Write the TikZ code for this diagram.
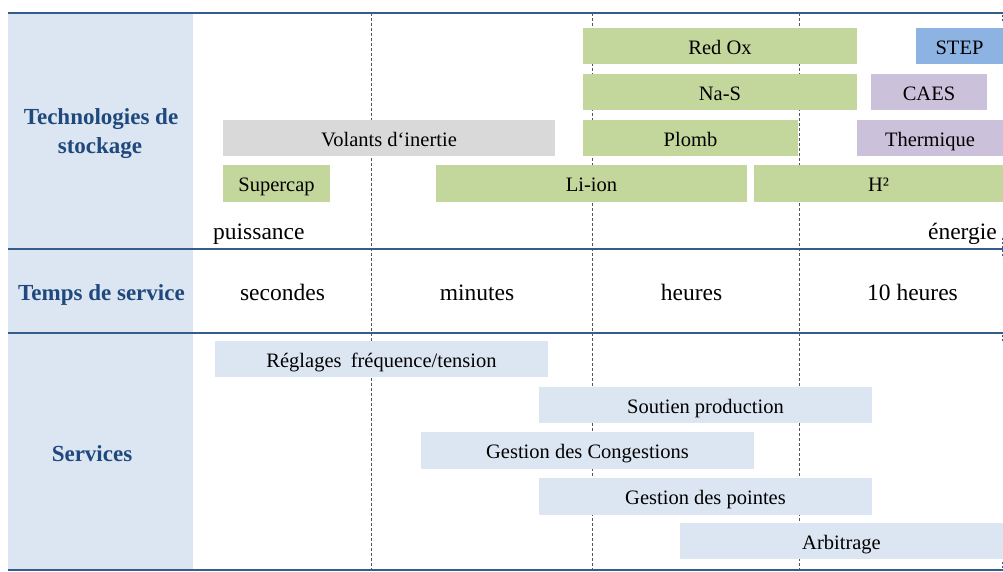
\documentclass[tikz,border=0pt]{standalone}
\usepackage{fontspec}
\setmainfont{Liberation Serif}
\definecolor{grn}{HTML}{C3D69B}
\definecolor{stepblue}{HTML}{8DB3E2}
\definecolor{purp}{HTML}{CCC1DA}
\definecolor{gry}{HTML}{D9D9D9}
\definecolor{lblue}{HTML}{DCE6F2}
\definecolor{txtblue}{HTML}{1F497D}
\definecolor{rule}{HTML}{345C8C}
\definecolor{dashgray}{HTML}{555555}
\tikzset{
  bar/.style={inner sep=0pt, outer sep=0pt, text height=18pt, text depth=1.6pt,
    font=\fontsize{20.5}{24}\selectfont},
  big/.style={inner sep=0pt, anchor=base, font=\fontsize{23.5}{28}\selectfont},
  head/.style={inner sep=0pt, anchor=base, text=txtblue, font=\bfseries\fontsize{23}{30}\selectfont},
  hrule/.style={draw=rule, line width=2.6pt},
  vdash/.style={draw=dashgray, line width=1pt, dash pattern=on 3pt off 2pt},
  edgedots/.style={draw=rule, line width=1pt, dash pattern=on 2pt off 2pt}
}
\begin{document}
\begin{tikzpicture}[x=1pt,y=-1pt]
\useasboundingbox (0,0) rectangle (1003,572);
% left column
\fill[lblue] (8,13) rectangle (193,570);
% dashed verticals
\coordinate (d1t) at (371,13); \coordinate (d1b) at (371,570);
\coordinate (d2t) at (592,13); \coordinate (d2b) at (592,570);
\coordinate (d3t) at (799,13); \coordinate (d3b) at (799,570);
\draw[vdash] (d1t) -- (d1b);
\draw[vdash] (d2t) -- (d2b);
\draw[vdash] (d3t) -- (d3b);
% technology bars
\node[bar, fill=grn, minimum width=274pt, minimum height=36pt] (redox) at (720,46) {Red Ox};
\node[bar, fill=stepblue, minimum width=87pt, minimum height=36pt] (step) at (959.5,46) {STEP};
\node[bar, fill=grn, minimum width=274pt, minimum height=36pt] (nas) at (720,92) {Na-S};
\node[bar, fill=purp, minimum width=116pt, minimum height=36pt] (caes) at (929,92) {CAES};
\node[bar, fill=gry, minimum width=332pt, minimum height=36pt] (volants) at (389,138) {Volants d‘inertie};
\node[bar, fill=grn, minimum width=215pt, minimum height=36pt] (plomb) at (690.5,138) {Plomb};
\node[bar, fill=purp, minimum width=146pt, minimum height=36pt] (thermique) at (930,138) {Thermique};
\node[bar, fill=grn, minimum width=107pt, minimum height=37pt] (supercap) at (276.5,183.5) {Supercap};
\node[bar, fill=grn, minimum width=311pt, minimum height=37pt] (liion) at (591.5,183.5) {Li-ion};
\node[bar, fill=grn, minimum width=249pt, minimum height=37pt] (h2) at (878.5,183.5) {H²};
% puissance / energie
\node[big, anchor=base west] (puissance) at (213,239) {puissance};
\node[big, anchor=base east] (energie) at (997,239) {énergie};
% service time row
\node[big] (secondes) at (282.5,300) {secondes};
\node[big] (minutes) at (477,300) {minutes};
\node[big] (heures) at (691.5,300) {heures};
\node[big] (dixheures) at (912.5,300) {10 heures};
% services bars
\node[bar, fill=lblue, minimum width=333pt, minimum height=36pt] (reglages) at (381.5,359) {Réglages\hspace{0.45em}fréquence/tension};
\node[bar, fill=lblue, minimum width=333pt, minimum height=36pt] (soutien) at (705.5,405) {Soutien production};
\node[bar, fill=lblue, minimum width=333pt, minimum height=37pt] (congestions) at (587.5,450.5) {Gestion des Congestions};
\node[bar, fill=lblue, minimum width=333pt, minimum height=37pt] (pointes) at (705.5,496.5) {Gestion des pointes};
\node[bar, fill=lblue, minimum width=323pt, minimum height=36pt] (arbitrage) at (841.5,541) {Arbitrage};
% headings
\node[head] (tech1) at (101,125) {Technologies de};
\node[head] (tech2) at (100,154) {stockage};
\node[head] (temps) at (101.5,300) {Temps de service};
\node[head] (services) at (92,461) {Services};
% horizontal rules
\coordinate (r1a) at (8,13);  \coordinate (r1b) at (1003,13);
\coordinate (r2a) at (8,249); \coordinate (r2b) at (1003,249);
\coordinate (r3a) at (8,333); \coordinate (r3b) at (1003,333);
\coordinate (r4a) at (8,570); \coordinate (r4b) at (1003,570);
\draw[hrule] (r1a) -- (r1b);
\draw[hrule] (r2a) -- (r2b);
\draw[hrule] (r3a) -- (r3b);
\draw[hrule] (r4a) -- (r4b);
% dotted marks at right edge
\coordinate (e1a) at (1002,15); \coordinate (e1b) at (1002,21);
\coordinate (e2a) at (1002,238); \coordinate (e2b) at (1002,258);
\coordinate (e3a) at (1002,335); \coordinate (e3b) at (1002,341);
\coordinate (e4a) at (1002,562); \coordinate (e4b) at (1002,568);
\draw[edgedots] (e1a) -- (e1b);
\draw[edgedots] (e2a) -- (e2b);
\draw[edgedots] (e3a) -- (e3b);
\draw[edgedots] (e4a) -- (e4b);
\end{tikzpicture}
\end{document}
